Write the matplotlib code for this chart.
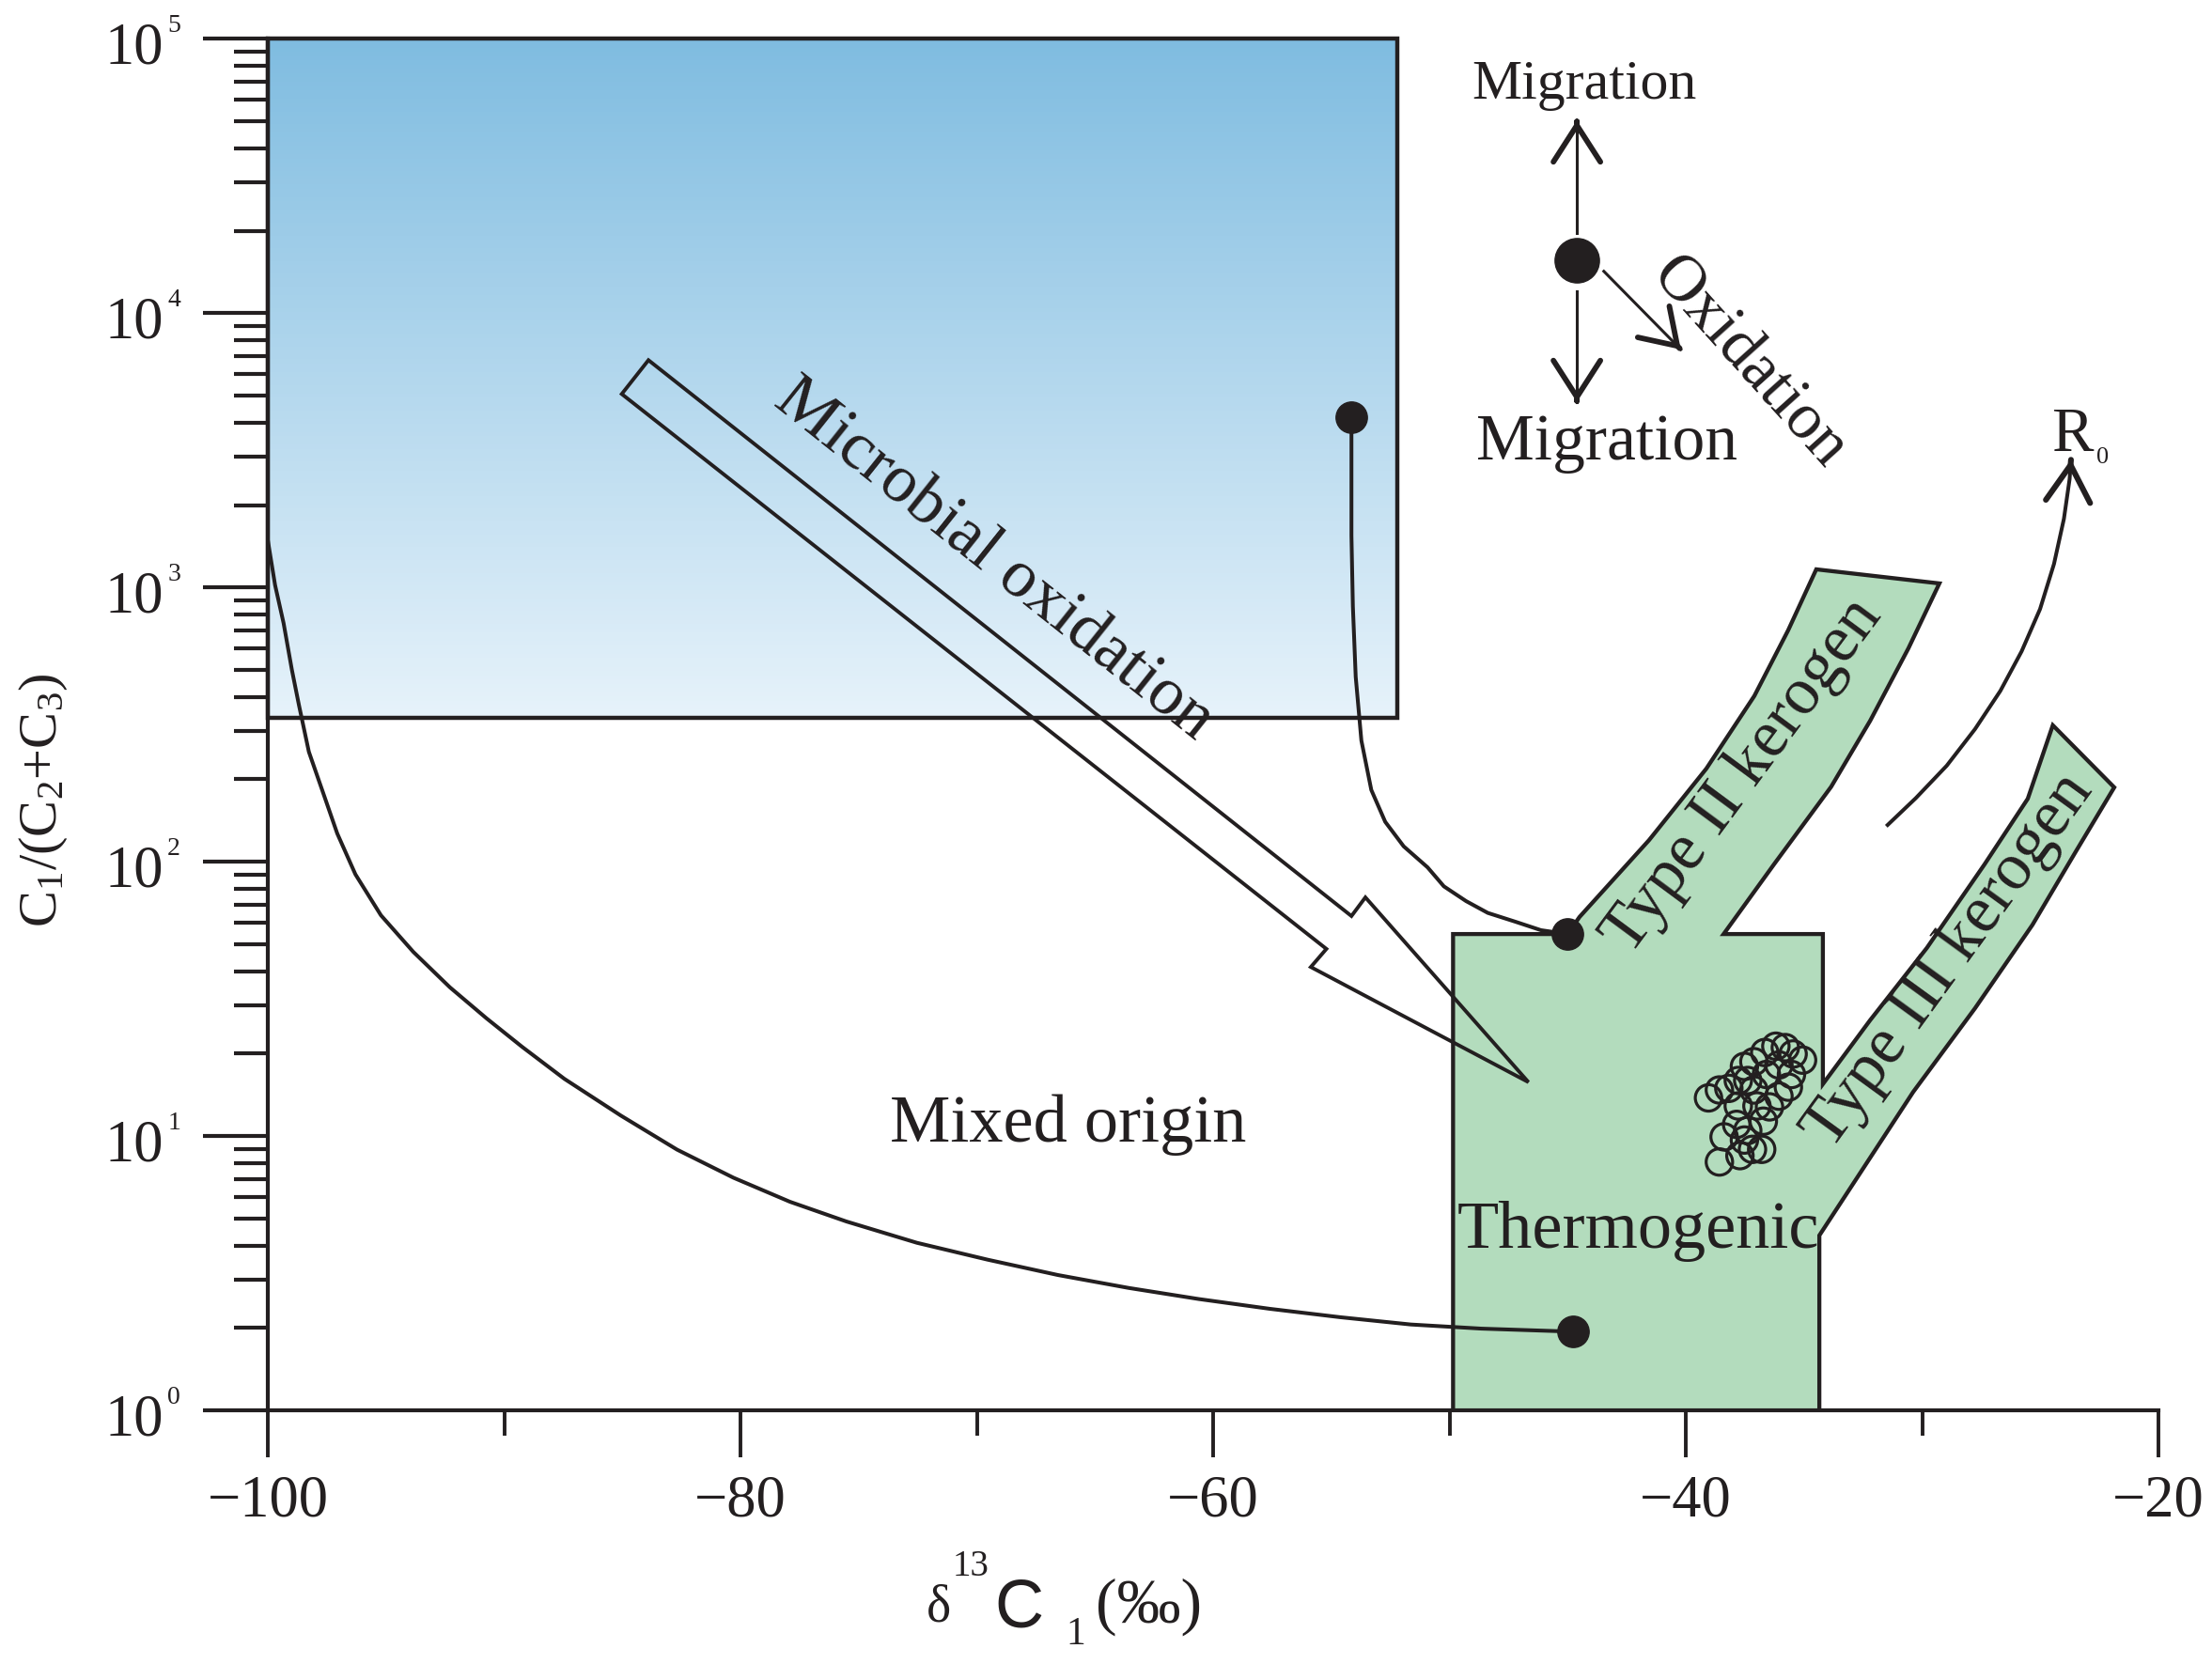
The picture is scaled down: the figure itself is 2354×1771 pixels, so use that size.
import numpy as np
import matplotlib.pyplot as plt
from matplotlib.patches import Polygon
from matplotlib.ticker import FixedLocator, LogLocator, NullFormatter, FixedFormatter

W, H = 2354, 1771
INK = '#231f20'
GREEN = '#b3dcbd'

plt.rcParams['font.family'] = ['Liberation Serif', 'DejaVu Serif']
plt.rcParams['mathtext.fontset'] = 'custom'
plt.rcParams['mathtext.rm'] = 'Liberation Serif'
plt.rcParams['mathtext.it'] = 'Liberation Serif:italic'
plt.rcParams['mathtext.sf'] = 'Liberation Sans'

# axes
x_major = [-100, -80, -60, -40, -20]
x_major_labels = ['−100', '−80', '−60', '−40', '−20']
x_minor = [-90, -70, -50, -30]
y_exponents = [0, 1, 2, 3, 4, 5]

# microbial field (blue box)
microbial_x = [-100.0, -52.2]
microbial_y = [335.0, 1e5]

# thermogenic field with Type II / Type III kerogen branches
thermo_x = [-49.85, -49.85, -45.0, -44.5, -41.56, -39.13, -37.1, -35.67, -34.48,
            -29.27, -30.58, -32.2, -33.85, -36.27, -38.4, -34.2, -34.2,
            -32.2, -29.8, -27.36, -25.53, -24.47, -21.87,
            -23.5, -25.33, -27.76, -30.38, -34.35, -34.35]
thermo_y = [1.0, 54.6, 54.6, 63, 120, 219, 403, 699, 1166,
            1036, 601, 327, 188, 98, 54.6, 54.6, 15.5,
            26.5, 48.6, 98, 170, 315, 187,
            109, 59, 29.3, 14.5, 4.35, 1.0]

# microbial oxidation hollow arrow
mo_arrow_x = [-83.9, -54.15, -53.56, -46.66, -55.87, -55.21, -85.03]
mo_arrow_y = [6750, 63.5, 74.3, 15.75, 41.4, 48.2, 5080]

# mixing curve (microbial end member -> thermogenic)
mix_x = [-100.0, -99.7, -99.34, -98.99, -98.69, -98.27, -97.67, -97.07, -96.3, -95.22,
         -93.85, -92.3, -90.75, -89.25, -87.46, -85.07, -82.69, -80.3, -77.91, -75.52,
         -72.54, -69.55, -66.57, -63.58, -60.6, -57.61, -54.63, -51.64, -48.66, -44.78]
mix_y = [1475, 1021, 742, 502, 373, 252, 179, 127, 90.1, 63.9,
         47.0, 34.9, 26.9, 21.2, 16.2, 11.9, 8.94, 7.06, 5.77, 4.89,
         4.09, 3.55, 3.12, 2.80, 2.55, 2.35, 2.19, 2.06, 1.99, 1.94]

# oxidation curve
ox_x = [-54.15, -54.15, -54.15, -54.09, -53.97, -53.73, -53.31, -52.72, -51.94, -50.93,
        -50.24, -49.3, -48.38, -47.2, -46.13, -45.0]
ox_y = [4180, 2796, 1546, 855, 473, 277, 183, 140, 114, 95.6,
        81.5, 72, 65.2, 60.5, 56.4, 54.6]

# maturity (R0) trend
r0_x = [-31.46, -30.27, -28.96, -27.76, -26.69, -25.79, -25.01, -24.42, -24.0, -23.76, -23.7]
r0_y = [136.4, 170.8, 224.3, 305.2, 420.3, 585.8, 835.3, 1220, 1782, 2484, 2932]

# end-member dots
end_x = [-54.15, -45.0, -44.78]
end_y = [4180, 54.6, 1.94]

# migration / oxidation legend symbol
sym_x, sym_y = -44.61, 15600
mig_up = (19690, 50560)
mig_down = (12030, 4745)
oxi_arrow = ((-43.47, 14230), (-40.21, 7380))

# samples
sample_d13c = [-38.58, -37.71, -37.18, -36.79, -38.38, -37.52, -37.85, -36.72, -37.38,
               -39.04, -38.58, -38.18, -37.78, -37.38, -37.12, -37.52, -37.12, -36.66,
               -36.19, -35.79, -35.46, -35.06, -35.53, -35.66, -36.06, -36.46, -36.99,
               -37.78, -36.06, -36.59]
sample_ratio = [8.06, 8.5, 8.96, 8.96, 9.95, 9.69, 11.05, 11.35, 10.5,
                13.8, 14.75, 14.95, 15.97, 15.97, 14.75, 17.98, 18.7, 20.2,
                21.3, 21.05, 19.95, 18.95, 16.8, 15.1, 14.0, 12.8, 12.9,
                12.9, 18.2, 16.8]

fig = plt.figure(figsize=(W / 100, H / 100), dpi=100)
ax = fig.add_axes([285.2 / W, 1 - 1501.3 / H, (2297 - 285.2) / W, (1501.3 - 41.5) / H])
ax.set_yscale('log')
ax.set_xlim(-100, -20)
ax.set_ylim(1, 1e5)

# blue gradient box
top = np.array([0x7f, 0xbc, 0xe0]) / 255
bot = np.array([0xe6, 0xf2, 0xfa]) / 255
edges = np.geomspace(microbial_y[0], microbial_y[1], 160)
for i in range(len(edges) - 1):
    f = i / (len(edges) - 2)
    c = bot + (top - bot) * f
    ax.fill_between(microbial_x, edges[i], edges[i + 1], color=c, lw=0, zorder=1)
box = Polygon([(microbial_x[0], microbial_y[0]), (microbial_x[1], microbial_y[0]),
               (microbial_x[1], microbial_y[1]), (microbial_x[0], microbial_y[1])],
              closed=True, fill=False, ec=INK, lw=3.2, zorder=3, clip_on=False)
ax.add_patch(box)

# thermogenic field
ax.add_patch(Polygon(np.column_stack([thermo_x, thermo_y]), closed=True,
                     fc=GREEN, ec=INK, lw=3.1, joinstyle='miter', zorder=2))

# hollow arrow
ax.add_patch(Polygon(np.column_stack([mo_arrow_x, mo_arrow_y]), closed=True,
                     fill=False, ec=INK, lw=2.8, joinstyle='miter', zorder=4))

ax.plot(mix_x, mix_y, color=INK, lw=2.9, zorder=4, solid_joinstyle='round')
ax.plot(ox_x, ox_y, color=INK, lw=2.9, zorder=4, solid_joinstyle='round')
ax.plot(r0_x, r0_y, color=INK, lw=2.9, zorder=4, solid_joinstyle='round')


def head(x0, y0, x1, y1, hl=28, hw=18, lw=4.2):
    t = 0.985
    xm = x0 + t * (x1 - x0)
    ym = 10 ** (np.log10(y0) + t * (np.log10(y1) - np.log10(y0)))
    ax.annotate('', xy=(x1, y1), xytext=(xm, ym),
                arrowprops=dict(arrowstyle=f'->,head_length={hl},head_width={hw}',
                                mutation_scale=1, lw=lw, color=INK,
                                shrinkA=0, shrinkB=0), zorder=5)


head(r0_x[-2], r0_y[-2], r0_x[-1], r0_y[-1], hl=28, hw=17, lw=4.4)

# migration / oxidation symbol
ax.plot([sym_x, sym_x], mig_up, color=INK, lw=2.2, zorder=5)
head(sym_x, mig_up[0], sym_x, mig_up[1])
ax.plot([sym_x, sym_x], mig_down, color=INK, lw=2.2, zorder=5)
head(sym_x, mig_down[0], sym_x, mig_down[1])
ax.plot([oxi_arrow[0][0], oxi_arrow[1][0]], [oxi_arrow[0][1], oxi_arrow[1][1]],
        color=INK, lw=2.2, zorder=5)
head(oxi_arrow[0][0], oxi_arrow[0][1], oxi_arrow[1][0], oxi_arrow[1][1], hl=26, hw=17)
ax.plot([sym_x], [sym_y], 'o', ms=34, color=INK, zorder=6)

ax.plot(end_x, end_y, 'o', ms=24, color=INK, ls='none', zorder=6)
ax.scatter(sample_d13c, sample_ratio, s=410, facecolors='none', edgecolors=INK,
           linewidths=2.3, zorder=7)

# axes styling
for s in ['top', 'right']:
    ax.spines[s].set_visible(False)
for s in ['left', 'bottom']:
    ax.spines[s].set_linewidth(3.0)
    ax.spines[s].set_color(INK)
    ax.spines[s].set_zorder(8)
ax.xaxis.set_major_locator(FixedLocator(x_major))
ax.xaxis.set_major_formatter(FixedFormatter(x_major_labels))
ax.xaxis.set_minor_locator(FixedLocator(x_minor))
ax.yaxis.set_major_locator(FixedLocator([10.0 ** e for e in y_exponents]))
ax.yaxis.set_minor_locator(LogLocator(base=10, subs=np.arange(2, 10)))
ax.yaxis.set_major_formatter(NullFormatter())
ax.yaxis.set_minor_formatter(NullFormatter())
ax.tick_params(axis='x', which='major', length=36, width=2.8, color=INK, pad=13,
               labelsize=45, labelcolor=INK)
ax.tick_params(axis='x', which='minor', length=19.5, width=2.8, color=INK)
ax.tick_params(axis='y', which='major', length=50, width=3.0, color=INK)
ax.tick_params(axis='y', which='minor', length=26, width=3.0, color=INK)

for e in y_exponents:
    ax.annotate('10', xy=(0, 10.0 ** e), xycoords=('axes fraction', 'data'),
                xytext=(-111, -11), textcoords='offset pixels', ha='right', va='center',
                fontsize=45, color=INK, annotation_clip=False)
    ax.annotate(str(e), xy=(0, 10.0 ** e), xycoords=('axes fraction', 'data'),
                xytext=(-107, 14), textcoords='offset pixels', ha='left', va='center',
                fontsize=20, color=INK, annotation_clip=False)


def ftext(px, py, s, **kw):
    fig.text(px / W, 1 - py / H, s, color=INK, **kw)


# axis titles
ftext(46, 852, r'C$_{1}$/(C$_{2}$+C$_{3}$)', rotation=90, ha='center', va='center', fontsize=42)
ftext(986, 1725, 'δ', ha='left', va='baseline', fontsize=40)
ftext(1014, 1677, '13', ha='left', va='baseline', fontsize=28)
ftext(1058, 1732, 'C', ha='left', va='baseline', fontsize=52, family='Liberation Sans')
ftext(1134, 1750, '1', ha='left', va='baseline', fontsize=30)
ftext(1166, 1727, '(‰)', ha='left', va='baseline', fontsize=49)

# annotations
ax.text(-66.15, 9.56, 'Mixed origin', ha='center', va='baseline', fontsize=52, color=INK, zorder=9)
ax.text(-42.0, 3.92, 'Thermogenic', ha='center', va='baseline', fontsize=52, color=INK, zorder=9)
ax.text(-44.3, 60640, 'Migration', ha='center', va='baseline', fontsize=43, color=INK, zorder=9)
ax.text(-43.35, 2924, 'Migration', ha='center', va='baseline', fontsize=50, color=INK, zorder=9)
ax.text(-37.35, 6600, 'Oxidation', ha='center', va='center', rotation=-48,
        rotation_mode='anchor', fontsize=50, color=INK, zorder=9)
ax.text(-69.3, 1262, 'Microbial oxidation', ha='center', va='center', rotation=-38.5,
        rotation_mode='anchor', fontsize=52, color=INK, zorder=9)
ax.text(-37.56, 205, 'Type II kerogen', ha='center', va='center', rotation=53.5,
        rotation_mode='anchor', fontsize=51, color=INK, zorder=9)
ax.text(-28.85, 43.5, 'Type III kerogen', ha='center', va='center', rotation=54,
        rotation_mode='anchor', fontsize=51, color=INK, zorder=9)
ax.text(-24.54, 3148, 'R', ha='left', va='baseline', fontsize=48, color=INK, zorder=9)
ax.text(-22.62, 2842, '0', ha='left', va='baseline', fontsize=19, color=INK, zorder=9)

fig.savefig('out.png', dpi=100)
